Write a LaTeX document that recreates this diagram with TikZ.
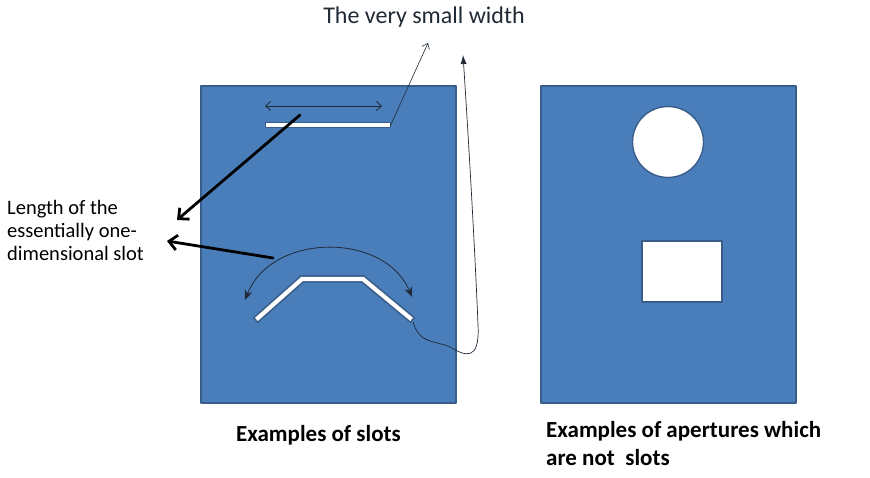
\documentclass[tikz,border=0pt]{standalone}
\usepackage{fontspec}
\setmainfont{Carlito}
\usetikzlibrary{arrows.meta, positioning, shapes}
\definecolor{plateblue}{HTML}{4A7EBB}
\definecolor{edgeblue}{HTML}{385D8A}
\definecolor{inkgrey}{HTML}{1F2A36}

\begin{document}
\begin{tikzpicture}[x=1pt, y=-1pt, line cap=round, line join=round]
      \useasboundingbox (0,0) rectangle (870,478);

      % Placas
      \node[draw=edgeblue, fill=plateblue, line width=1.4pt, inner sep=0pt,
            minimum width=255pt, minimum height=317pt] (slotplate) at (328.5,244.5) {};
      \node[draw=edgeblue, fill=plateblue, line width=1.4pt, inner sep=0pt,
            minimum width=255pt, minimum height=317pt] (holeplate) at (668.5,244.5) {};

      % Ranura recta
      \node[draw=edgeblue, fill=white, line width=1pt, inner sep=0pt,
            minimum width=125pt, minimum height=5pt] (flatslot) at (327.5,125.5) {};

      % Ranura doblada
      \coordinate (bendA) at (258,318);
      \coordinate (bendB) at (302,279);
      \coordinate (bendC) at (363,279);
      \coordinate (bendD) at (410,318);
      \draw[edgeblue, line width=7.5pt, line cap=rect, line join=miter] (bendA) -- (bendB) -- (bendC) -- (bendD);
      \draw[white, line width=4.2pt, line cap=rect, line join=miter] (bendA) -- (bendB) -- (bendC) -- (bendD);

      % Aberturas
      \node[circle, draw=edgeblue, fill=white, line width=1.4pt, inner sep=0pt,
            minimum size=71pt] (roundhole) at (668,142) {};
      \node[draw=edgeblue, fill=white, line width=1.4pt, inner sep=0pt,
            minimum width=80pt, minimum height=61pt] (squarehole) at (682,271.5) {};

      % Textos
      \node[text=inkgrey, font=\fontsize{24pt}{28pt}\selectfont] (widthlabel) at (424,17) {The very small width};
      \node[text=black, anchor=west, align=left, inner sep=0pt,
            font=\fontsize{20.5pt}{23pt}\selectfont] (lengthlabel) at (7,230) {Length of the\\essentially one-\\dimensional slot};
      \node[font=\bfseries\fontsize{23pt}{28pt}\selectfont] (slotcaption) at (318.5,435) {Examples of slots};
      \node[anchor=north west, align=left, inner sep=0pt,
            font=\bfseries\fontsize{23pt}{28pt}\selectfont] (aperturecaption) at (546,421) {Examples of apertures which\\are not\ \ slots};

      % Flechas de ancho
      \coordinate (widthL) at (265,106);
      \coordinate (widthR) at (382,106);
      \coordinate (widthtip) at (428,43);
      \draw[{Straight Barb[length=5pt,width=9pt]}-{Straight Barb[length=5pt,width=9pt]}, inkgrey, line width=0.8pt] (widthL) -- (widthR);
      \draw[-{Straight Barb[length=5pt,width=8pt]}, inkgrey, line width=0.6pt] (flatslot.east) -- (widthtip);

      % Flechas de longitud
      \coordinate (lenstartA) at (300,115);
      \coordinate (lentipA) at (177,220);
      \coordinate (lenstartB) at (273,258);
      \coordinate (lentipB) at (167,241);
      \draw[-{Straight Barb[length=8pt,width=15pt]}, black, line width=2.8pt] (lenstartA) -- (lentipA);
      \draw[-{Straight Barb[length=8pt,width=15pt]}, black, line width=2.8pt] (lenstartB) -- (lentipB);

      % Arco sobre la ranura doblada
      \coordinate (arcL) at (245,300);
      \coordinate (arcR) at (412,297);
      \draw[{Stealth[length=10pt,width=8pt]}-{Stealth[length=10pt,width=8pt]}, inkgrey, line width=0.8pt]
            (arcL) .. controls (272,232) and (385,232) .. (arcR);

      % Flecha ondulada
      \coordinate (wigstart) at (413,322);
      \coordinate (wigtip) at (463,55);
      \draw[-{Latex[length=9pt,width=6pt]}, inkgrey, line width=0.7pt]
            (wigstart) .. controls (420,345) and (435,340) .. (450,347)
            .. controls (465,356) and (480,362) .. (478,325)
            .. controls (475,250) and (468,130) .. (wigtip);
\end{tikzpicture}
\end{document}
